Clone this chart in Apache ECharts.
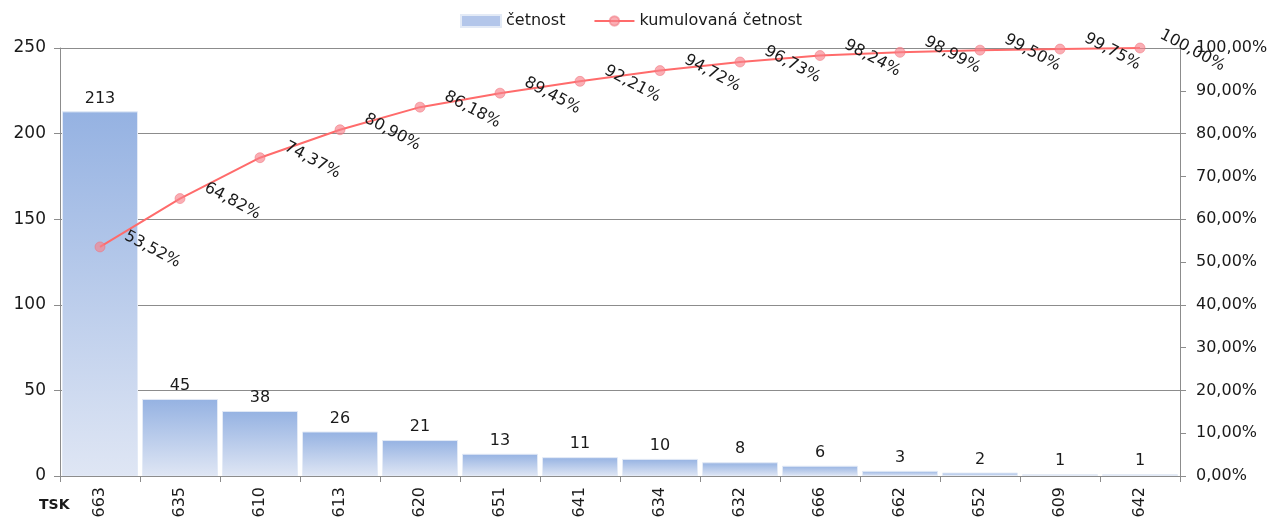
<!DOCTYPE html>
<html>
<head>
<meta charset="utf-8">
<script src="https://cdn.jsdelivr.net/npm/echarts@6/dist/echarts.min.js"></script>
<style>
  html, body { margin: 0; padding: 0; background: #fff; }
  #chart { width: 1273px; height: 517px; }
</style>
</head>
<body>
<div id="chart"></div>
<script>
  var categories = ['663', '635', '610', '613', '620', '651', '641', '634', '632', '666', '662', '652', '609', '642'];
  var counts = [213, 45, 38, 26, 21, 13, 11, 10, 8, 6, 3, 2, 1, 1];
  var cumulative = [53.52, 64.82, 74.37, 80.90, 86.18, 89.45, 92.21, 94.72, 96.73, 98.24, 98.99, 99.50, 99.75, 100.00];
  var leftTicks = [0, 50, 100, 150, 200, 250];

  var FONT = '"DejaVu Sans", sans-serif';
  var TXT = '#1a1a1a';

  function pct(v) {
    return v.toFixed(2).replace('.', ',') + '%';
  }

  var chart = echarts.init(document.getElementById('chart'));
  chart.setOption({
    animation: false,
    textStyle: { fontFamily: FONT },
    legend: {
      top: 8,
      left: 455,
      itemGap: 28,
      textStyle: { fontSize: 16, color: TXT, fontFamily: FONT },
      data: [
        { name: 'četnost', icon: 'rect', itemStyle: { color: '#b3c6ea' } },
        { name: 'kumulovaná četnost' }
      ],
      itemWidth: 40,
      itemHeight: 12
    },
    grid: { left: 60, right: 93, top: 48, bottom: 41, containLabel: false, outerBoundsMode: 'none' },
    xAxis: {
      type: 'category',
      data: categories,
      axisLine: { lineStyle: { color: '#8c8c8c' } },
      axisTick: { show: true, alignWithLabel: false, length: 6, lineStyle: { color: '#8c8c8c' } },
      axisLabel: { rotate: 90, fontSize: 16, color: TXT, margin: 11, fontFamily: FONT }
    },
    yAxis: [
      {
        type: 'value', min: leftTicks[0], max: leftTicks[leftTicks.length - 1], interval: 50,
        axisLine: { show: true, lineStyle: { color: '#8c8c8c' } },
        axisTick: { show: true, length: 6, lineStyle: { color: '#8c8c8c' } },
        axisLabel: { fontSize: 17, color: TXT, margin: 14, fontFamily: FONT },
        splitLine: { lineStyle: { color: '#8c8c8c', width: 1 } }
      },
      {
        type: 'value', min: 0, max: 100, interval: 10,
        axisLine: { show: true, lineStyle: { color: '#8c8c8c' } },
        axisTick: { show: true, length: 6, lineStyle: { color: '#8c8c8c' } },
        axisLabel: { fontSize: 16, color: TXT, margin: 16, fontFamily: FONT, formatter: pct },
        splitLine: { show: false }
      }
    ],
    series: [
      {
        name: 'četnost',
        type: 'bar',
        yAxisIndex: 0,
        data: counts,
        barCategoryGap: '5%',
        itemStyle: {
          color: new echarts.graphic.LinearGradient(0, 0, 0, 1, [
            { offset: 0, color: '#95b2e2' },
            { offset: 1, color: '#dfe6f4' }
          ]),
          borderColor: '#e3eaf6',
          borderWidth: 1
        },
        label: { show: true, position: 'top', distance: 5, fontSize: 16, color: TXT, fontFamily: FONT },
        z: 2
      },
      {
        name: 'kumulovaná četnost',
        type: 'line',
        yAxisIndex: 1,
        data: cumulative,
        symbol: 'circle',
        symbolSize: 10,
        lineStyle: { color: '#ff6b6b', width: 2 },
        itemStyle: { color: 'rgba(248,130,140,0.65)', borderColor: 'rgba(240,110,120,0.5)', borderWidth: 1 },
        label: {
          show: true, position: [58, 8], align: 'center', verticalAlign: 'middle', rotate: -28,
          fontSize: 16, color: TXT, fontFamily: FONT,
          formatter: function (p) { return pct(p.value); }
        },
        z: 3
      }
    ],
    graphic: [
      { type: 'text', left: 39, top: 498, style: { text: 'TSK', fontSize: 14, fontWeight: 'bold', fill: TXT, fontFamily: FONT } }
    ]
  });
</script>
</body>
</html>
